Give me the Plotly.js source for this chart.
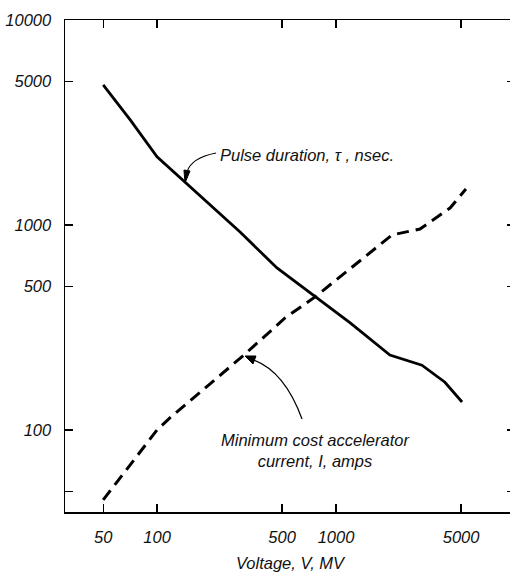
<!DOCTYPE html>
<html>
<head>
<meta charset="utf-8">
<script src="https://cdn.plot.ly/plotly-3.0.1.min.js"></script>
<style>
html, body { margin: 0; padding: 0; overflow: hidden; background: #fff; }
#chart { width: 520px; height: 575px; }
</style>
</head>
<body>
<div id="chart"></div>
<script>
// Pulse duration, tau (nsec) vs Voltage (MV)
const pulseVoltage = [50, 71, 100, 143, 291, 468, 764, 1200, 2000, 3020, 4060, 5060];
const pulseDuration = [4820, 3250, 2150, 1620, 924, 617, 446, 333, 232, 207, 171, 137];

// Minimum cost accelerator current, I (amps) vs Voltage (MV)
const currentVoltage = [50, 100, 118, 302, 519, 764, 2055, 2945, 4335, 5320];
const currentAmps = [45.6, 100, 114.5, 230, 352, 446, 894, 956, 1210, 1498];

const xTickVals = [50, 100, 500, 1000, 5000];
const xTickText = ['50', '100', '500', '1000', '5000'];
const yTickVals = [50, 100, 500, 1000, 5000, 10000];
const yTickText = ['', '100', '500', '1000', '5000', '10000'];

const pulseLabel = 'Pulse duration, \u03c4 , nsec.';
const currentLabel = 'Minimum cost accelerator<br>current, I, amps';
const xTitle = 'Voltage, V, MV';

const font = { family: 'Liberation Sans, Arial, sans-serif', size: 16.5, color: '#111', style: 'italic' };

const traces = [
  { x: pulseVoltage, y: pulseDuration, mode: 'lines', type: 'scatter',
    line: { color: '#000', width: 2.8 }, hoverinfo: 'skip' },
  { x: currentVoltage, y: currentAmps, mode: 'lines', type: 'scatter',
    line: { color: '#000', width: 3, dash: '12px,7px' }, hoverinfo: 'skip' }
];

// pixel -> paper helpers for the decorative curved pointers (plot spans 65..515 x, 20..512 y)
function px(x) { return ((x - 65) / 450).toFixed(4); }
function py(y) { return ((512 - y) / 492).toFixed(4); }

const shapes = [
  { type: 'path', xref: 'paper', yref: 'paper',
    path: `M ${px(216)} ${py(153)} Q ${px(191)} ${py(158)} ${px(187)} ${py(172)}`,
    line: { color: '#000', width: 1.2 } },
  { type: 'path', xref: 'paper', yref: 'paper',
    path: `M ${px(184)} ${py(170)} L ${px(190)} ${py(171)} L ${px(185)} ${py(183)} Z`,
    fillcolor: '#000', line: { color: '#000', width: 1 } },
  { type: 'path', xref: 'paper', yref: 'paper',
    path: `M ${px(302)} ${py(419)} Q ${px(285)} ${py(372)} ${px(254)} ${py(360)}`,
    line: { color: '#000', width: 1.2 } },
  { type: 'path', xref: 'paper', yref: 'paper',
    path: `M ${px(256)} ${py(356)} L ${px(253)} ${py(364)} L ${px(245)} ${py(356)} Z`,
    fillcolor: '#000', line: { color: '#000', width: 1 } }
];

const annotations = [
  { xref: 'paper', yref: 'paper', x: px(218), y: py(155), xanchor: 'left', yanchor: 'middle',
    text: pulseLabel, showarrow: false, font: font },
  { xref: 'paper', yref: 'paper', x: px(315), y: py(451), xanchor: 'center', yanchor: 'middle',
    text: currentLabel, showarrow: false, font: font, align: 'center' }
];

const layout = {
  width: 520, height: 575,
  margin: { l: 65, r: 5, t: 20, b: 63 },
  paper_bgcolor: '#fff', plot_bgcolor: '#fff',
  showlegend: false,
  font: font,
  xaxis: {
    type: 'log', range: [Math.log10(30.6), 4],
    tickvals: xTickVals, ticktext: xTickText,
    ticks: 'inside', ticklen: 8, tickwidth: 1.3, tickcolor: '#000',
    showline: true, linecolor: '#000', linewidth: 1.5, mirror: 'ticks',
    showgrid: false, zeroline: false,
    ticklabelstandoff: 10,
    tickfont: font,
    title: { text: xTitle, font: font, standoff: 12 }
  },
  yaxis: {
    type: 'log', range: [1.6, 4],
    tickvals: yTickVals, ticktext: yTickText,
    ticks: 'inside', ticklen: 8, tickwidth: 1.3, tickcolor: '#000',
    showline: true, linecolor: '#000', linewidth: 1.5, mirror: 'ticks',
    showgrid: false, zeroline: false,
    ticklabelstandoff: 9,
    tickfont: font
  },
  shapes: shapes,
  annotations: annotations
};

Plotly.newPlot('chart', traces, layout, { staticPlot: true, displayModeBar: false });
</script>
</body>
</html>
